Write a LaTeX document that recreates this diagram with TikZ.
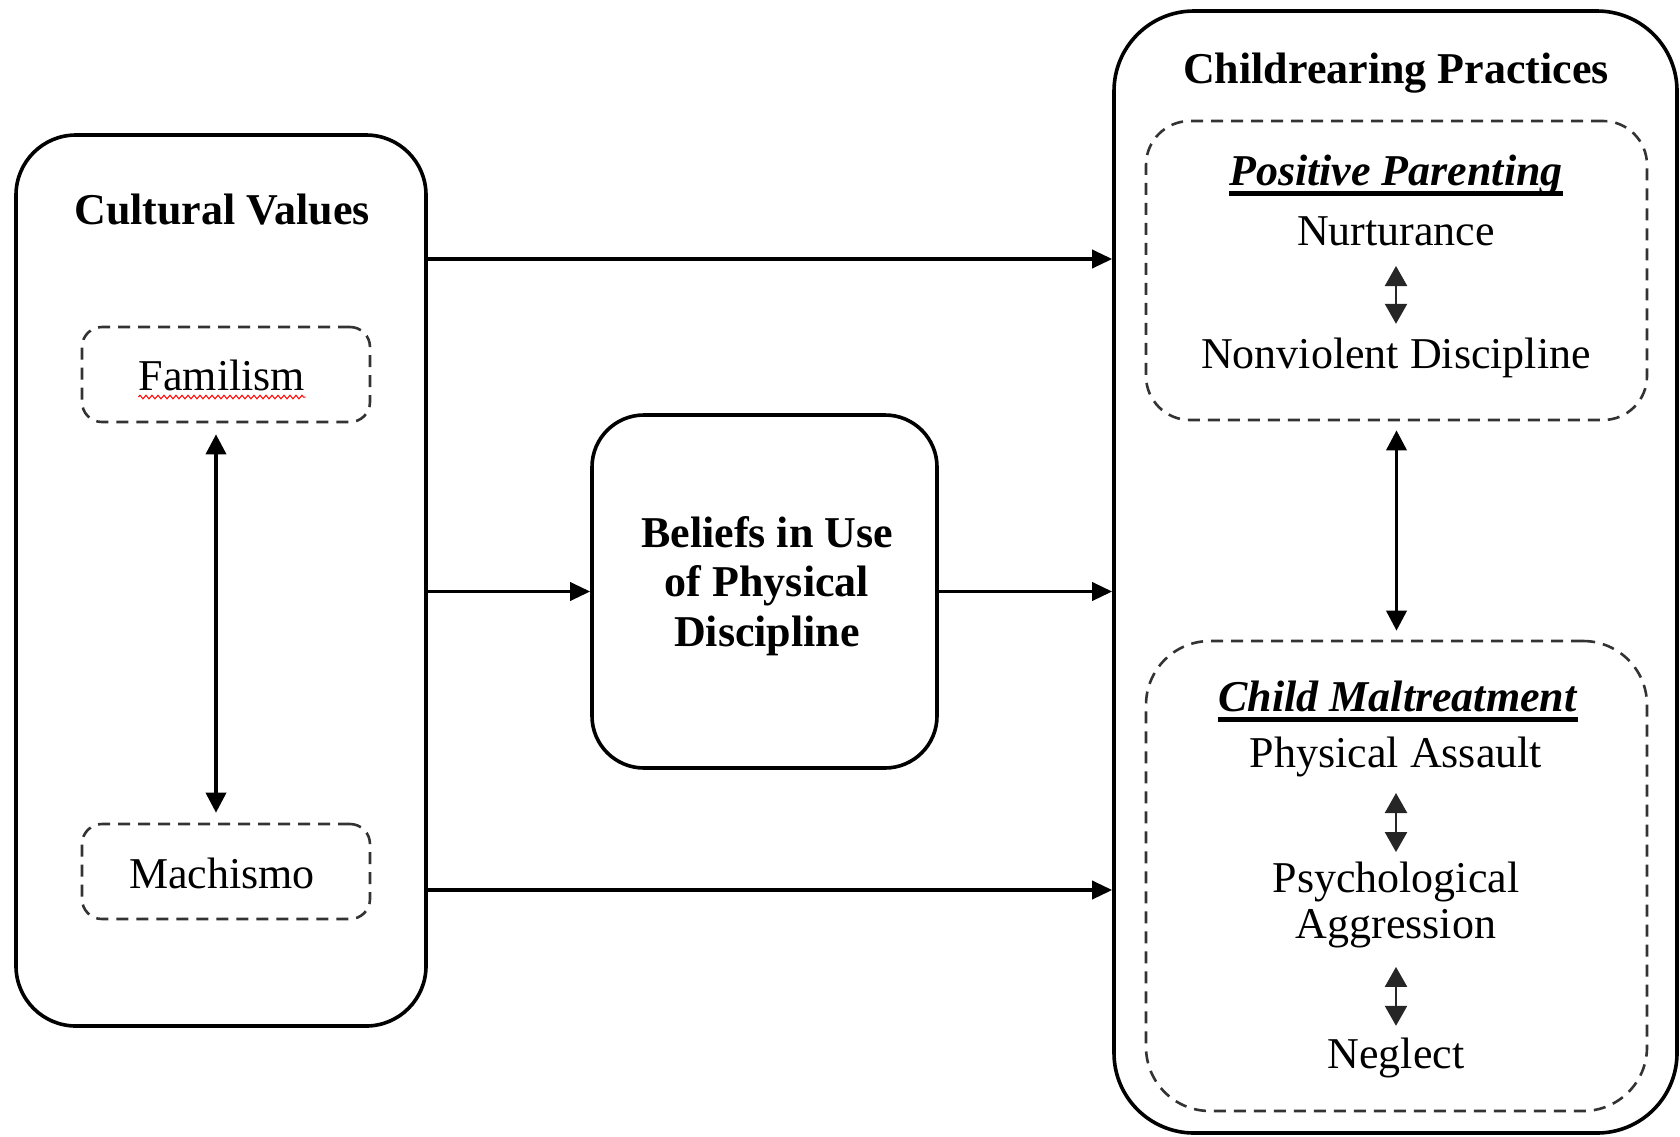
\documentclass[tikz,border=0pt]{standalone}
\usepackage{fontspec}
\setmainfont{Liberation Serif}
\usepackage{tikz}
\usetikzlibrary{arrows.meta}
\usetikzlibrary{decorations.pathmorphing}

\newcommand{\diagfont}{\fontsize{22}{24}\selectfont}
\newcommand{\ulhead}[1]{\setbox0\hbox{#1}\rlap{\copy0}\raisebox{-5.25pt}{\rule{\wd0}{2.5pt}}}

\begin{document}
\begin{tikzpicture}[x=0.5pt,y=-0.5pt,
    solidbox/.style={draw, line width=1.8pt, rounded corners=#1},
    dashbox/.style={draw=black!80, line width=1.3pt, dash pattern=on 6pt off 4pt, rounded corners=#1},
    heading/.style={inner sep=0pt, anchor=base, font=\diagfont\bfseries},
    item/.style={inner sep=0pt, anchor=base, font=\diagfont, text height=15.4pt, text depth=4.8pt},
    arr/.style={-{Triangle[length=10pt,width=9pt]}, line width=1.8pt},
    dblarr/.style={{Triangle[length=10pt,width=10pt]}-{Triangle[length=10pt,width=10pt]}, line width=1.8pt},
    smallarr/.style={{Triangle[length=10pt,width=11pt]}-{Triangle[length=10pt,width=11pt]}, line width=1.2pt, black!85}]
    \useasboundingbox (0,0) rectangle (1680,1136);

    % Boxes
    \node[solidbox=30pt, minimum width=205pt, minimum height=445.5pt] (cult) at (221,580.5) {};
    \node[solidbox=40pt, minimum width=281.5pt, minimum height=561pt] (crp) at (1395.5,572) {};
    \node[solidbox=26pt, minimum width=172.5pt, minimum height=176.5pt] (belief) at (764.5,591.5) {};
    \node[dashbox=10pt, minimum width=144pt, minimum height=47.5pt] (fam) at (226,374.5) {};
    \node[dashbox=10pt, minimum width=144pt, minimum height=47.5pt] (mach) at (226,871.5) {};
    \node[dashbox=22pt, minimum width=250.5pt, minimum height=149.5pt] (pos) at (1396.5,270.5) {};
    \node[dashbox=32pt, minimum width=250.5pt, minimum height=235pt] (mal) at (1396.5,876) {};

    % Texts
    \node[heading] (cvtitle) at (222,224) {Cultural Values};
    \node[item] (famtxt) at (222,390) {Familism};
    \node[item] (machtxt) at (222,888) {Machismo};
    \node[heading, align=center, font=\fontsize{22}{24.75}\selectfont\bfseries] (belieftxt) at (767,646)
        {Beliefs in Use\\of Physical\\Discipline};
    \node[heading] (crptitle) at (1396,83) {Childrearing Practices};
    \node[heading] (postitle) at (1396,185) {\ulhead{\textit{Positive Parenting}}};
    \node[item] (nurt) at (1396,245) {Nurturance};
    \node[item] (nvd) at (1396,368) {Nonviolent Discipline};
    \node[heading] (maltitle) at (1398,711) {\ulhead{\textit{Child Maltreatment}}};
    \node[item] (phys) at (1396,767) {Physical Assault};
    \node[inner sep=0pt, anchor=base, align=center, font=\fontsize{22}{23}\selectfont] (psych) at (1396,938)
        {Psychological\\Aggression};
    \node[item] (negl) at (1396,1068) {Neglect};

    \draw[red, line width=0.5pt, decorate, decoration={zigzag, amplitude=0.9pt, segment length=3pt}]
        ([yshift=-3.5pt]famtxt.base west) -- ([yshift=-3.5pt]famtxt.base east);

    % Arrows
    \coordinate (toprow) at (0,259);
    \coordinate (botrow) at (0,890);
    \draw[arr] (cult.east |- toprow) -- (crp.west |- toprow);
    \draw[arr] (cult.east |- belief.west) -- (belief.west);
    \draw[arr] (belief.east) -- (crp.west |- belief.east);
    \draw[arr] (cult.east |- botrow) -- (crp.west |- botrow);

    \draw[dblarr, shorten <=5.5pt, shorten >=5pt] ([xshift=-5pt]fam.south) -- ([xshift=-5pt]mach.north);
    \draw[dblarr, shorten <=4.5pt, shorten >=4.5pt] (pos) -- (mal);

    \draw[smallarr, shorten <=5.5pt, shorten >=6.5pt] (nurt) -- (nvd);
    \draw[smallarr, shorten <=8pt, shorten >=4.5pt] (phys) -- (psych);
    \draw[smallarr, shorten <=9.5pt, shorten >=5.5pt] (psych) -- (negl);

\end{tikzpicture}
\end{document}
